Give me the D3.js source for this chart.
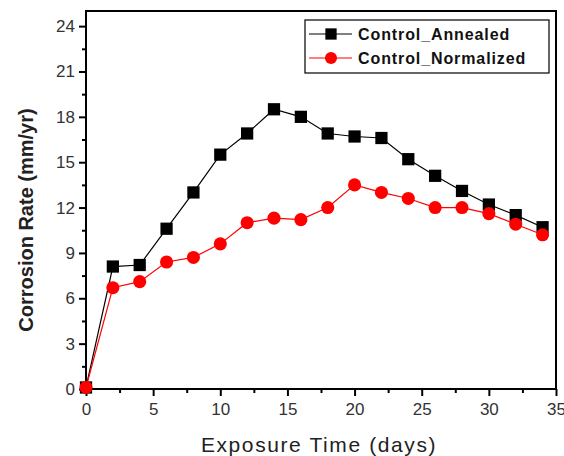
<!DOCTYPE html>
<html>
<head>
<meta charset="utf-8">
<style>
	body { margin: 0; background: #fff; }
	text { font-family: "Liberation Sans", Arial, Helvetica, sans-serif; }
	.axis text { font-size: 17px; fill: #333; }
	.axis path, .axis line { stroke: #000; stroke-width: 2px; }
</style>
</head>
<body>
<div id="chart"></div>
<script src="https://d3js.org/d3.v7.min.js"></script>
<script>
	// exposure time (days)
	const days = [0, 2, 4, 6, 8, 10, 12, 14, 16, 18, 20, 22, 24, 26, 28, 30, 32, 34];
	const annealed = [0.1, 8.1, 8.2, 10.6, 13.0, 15.5, 16.9, 18.5, 18.0, 16.9, 16.7, 16.6, 15.2, 14.1, 13.1, 12.2, 11.5, 10.7];
	const normalized = [0.1, 6.7, 7.1, 8.4, 8.7, 9.6, 11.0, 11.3, 11.2, 12.0, 13.5, 13.0, 12.6, 12.0, 12.0, 11.6, 10.9, 10.2];
	const seriesNames = ["Control_Annealed", "Control_Normalized"];
	const xTicks = [0, 5, 10, 15, 20, 25, 30, 35];
	const yTicks = [0, 3, 6, 9, 12, 15, 18, 21, 24];

	const W = 564, H = 456;
	const margin = { top: 11, right: 8, bottom: 67, left: 86 };
	const width = W - margin.left - margin.right;
	const height = H - margin.top - margin.bottom;

	const svg = d3.select("#chart").append("svg")
		.attr("width", W)
		.attr("height", H);

	const g = svg.append("g")
		.attr("transform", `translate(${margin.left},${margin.top})`);

	const x = d3.scaleLinear().domain([0, 35]).range([0, width]);
	const y = d3.scaleLinear().domain([0, 25]).range([height, 0]);

	// minor ticks
	const xMinor = d3.range(2.5, 35, 5);
	const yMinor = d3.range(1.5, 25, 3);

	g.append("g")
		.attr("class", "axis")
		.attr("transform", `translate(0,${height})`)
		.call(d3.axisBottom(x).tickValues(xMinor).tickSize(4).tickFormat(""))
		.call(a => a.select(".domain").remove());

	g.append("g")
		.attr("class", "axis")
		.call(d3.axisLeft(y).tickValues(yMinor).tickSize(4).tickFormat(""))
		.call(a => a.select(".domain").remove());

	g.append("g")
		.attr("class", "axis")
		.attr("transform", `translate(0,${height})`)
		.call(d3.axisBottom(x).tickValues(xTicks).tickSize(7).tickSizeOuter(0).tickPadding(7))
		.call(a => a.select(".domain").remove());

	g.append("g")
		.attr("class", "axis")
		.call(d3.axisLeft(y).tickValues(yTicks).tickSize(7).tickSizeOuter(0).tickPadding(4))
		.call(a => a.select(".domain").remove());

	// frame
	g.append("rect")
		.attr("x", 0).attr("y", 0)
		.attr("width", width).attr("height", height)
		.attr("fill", "none")
		.attr("stroke", "#000")
		.attr("stroke-width", 2);

	const line = d3.line()
		.x(d => x(d[0]))
		.y(d => y(d[1]));

	const series = [
		{ name: seriesNames[0], values: annealed, color: "#000", shape: d3.symbolSquare, size: 150 },
		{ name: seriesNames[1], values: normalized, color: "#ff0000", shape: d3.symbolCircle, size: 135 }
	];

	series.forEach(s => {
		const pts = days.map((d, i) => [d, s.values[i]]);
		g.append("path")
			.datum(pts)
			.attr("fill", "none")
			.attr("stroke", s.color)
			.attr("stroke-width", 1.2)
			.attr("d", line);
		g.selectAll(null)
			.data(pts)
			.enter().append("path")
			.attr("transform", d => `translate(${x(d[0])},${y(d[1])})`)
			.attr("d", d3.symbol().type(s.shape).size(s.size))
			.attr("fill", s.color);
	});

	// legend
	const legend = g.append("g").attr("transform", "translate(219,9)");
	legend.append("rect")
		.attr("width", 244).attr("height", 53)
		.attr("fill", "#fff")
		.attr("stroke", "#000")
		.attr("stroke-width", 1.2);

	series.forEach((s, i) => {
		const row = legend.append("g").attr("transform", `translate(0,${14 + i * 24})`);
		row.append("line")
			.attr("x1", 4).attr("x2", 47)
			.attr("stroke", s.color)
			.attr("stroke-width", 1.2);
		row.append("path")
			.attr("transform", "translate(26,0)")
			.attr("d", d3.symbol().type(s.shape).size(s.size * 0.85))
			.attr("fill", s.color);
		row.append("text")
			.attr("x", 53).attr("y", 6)
			.attr("font-size", 16)
			.attr("font-weight", "bold")
			.attr("letter-spacing", 0.9)
			.attr("fill", "#111")
			.text(s.name);
	});

	// axis titles
	svg.append("text")
		.attr("transform", `translate(33,${margin.top + height / 2 + 20}) rotate(-90)`)
		.attr("text-anchor", "middle")
		.attr("font-size", 20)
		.attr("font-weight", "bold")
		.attr("fill", "#222")
		.text("Corrosion Rate (mm/yr)");

	svg.append("text")
		.attr("x", margin.left + width / 2 - 2)
		.attr("y", 452)
		.attr("text-anchor", "middle")
		.attr("font-size", 21)
		.attr("letter-spacing", 1.6)
		.attr("fill", "#222")
		.text("Exposure Time (days)");
</script>
</body>
</html>
